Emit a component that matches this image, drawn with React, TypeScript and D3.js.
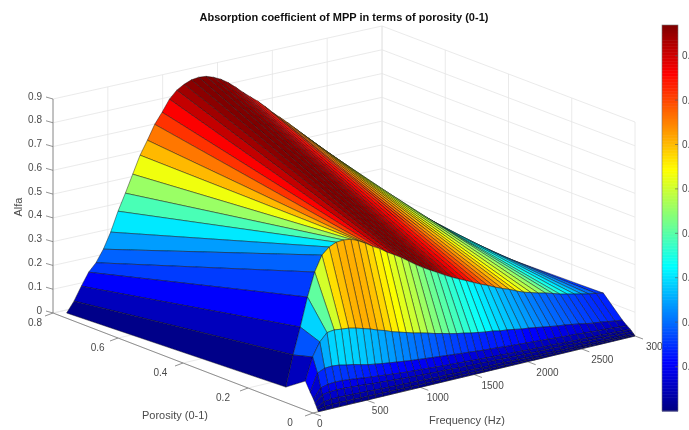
// App.tsx - absorption coefficient surface, MATLAB style surf with a jet colormap
import React from 'react';
import * as d3 from 'd3';

const frequencies = [50, 117, 184, 251, 318, 385, 452, 519, 586, 653, 720, 787, 854, 921, 988, 1055, 1122, 1189, 1256, 1323, 1390, 1457, 1524, 1591, 1658, 1725, 1792, 1859, 1926, 1993, 2060, 2127, 2194, 2261, 2328, 2395, 2462, 2529, 2596, 2663, 2730, 2797, 2864, 2931, 3000];
const porosities = [0, 0.002, 0.005, 0.01, 0.015, 0.025, 0.04, 0.1, 0.775];

const alphaP0 = [0, 0, 0, 0, 0, 0, 0, 0, 0, 0, 0, 0, 0, 0, 0, 0, 0, 0, 0, 0, 0, 0, 0, 0, 0, 0, 0, 0, 0, 0, 0, 0, 0, 0, 0, 0, 0, 0, 0, 0, 0, 0, 0, 0, 0];
const alphaP1 = [.006, .014, .015, .016, .015, .015, .014, .014, .013, .013, .012, .012, .011, .011, .01, .01, .01, .009, .009, .009, .008, .008, .008, .007, .007, .007, .007, .007, .006, .006, .006, .006, .006, .005, .005, .005, .005, .005, .004, .004, .004, .004, .004, .004, .003];
const alphaP2 = [.015, .032, .035, .036, .035, .034, .033, .032, .03, .029, .028, .027, .026, .025, .024, .023, .022, .021, .021, .02, .019, .019, .018, .017, .017, .016, .016, .015, .015, .014, .014, .013, .013, .012, .012, .011, .011, .011, .01, .01, .009, .009, .009, .008, .008];
const alphaP3 = [.03, .058, .064, .065, .064, .062, .06, .058, .055, .053, .051, .049, .047, .045, .043, .042, .04, .039, .038, .037, .035, .034, .033, .032, .031, .03, .029, .028, .027, .026, .025, .024, .023, .023, .022, .021, .02, .019, .019, .018, .017, .017, .016, .015, .015];
const alphaP4 = [.045, .085, .093, .095, .094, .091, .088, .084, .08, .077, .074, .071, .068, .065, .063, .061, .059, .057, .055, .053, .051, .05, .048, .046, .045, .043, .042, .04, .039, .038, .036, .035, .034, .033, .032, .03, .029, .028, .027, .026, .025, .024, .023, .022, .021];
const alphaP5 = [.069, .142, .155, .157, .154, .147, .142, .134, .127, .122, .117, .113, .109, .105, .101, .098, .095, .092, .089, .086, .083, .08, .078, .075, .072, .07, .068, .065, .063, .061, .059, .057, .055, .053, .051, .049, .047, .045, .043, .041, .039, .037, .035, .033, .031];
const alphaP6 = [.108, .202, .258, .29, .294, .29, .287, .28, .271, .262, .25, .241, .229, .22, .211, .202, .195, .187, .178, .171, .163, .156, .151, .144, .139, .134, .131, .124, .121, .116, .11, .107, .102, .097, .092, .087, .084, .079, .074, .068, .063, .06, .055, .05, .047];
const alphaP7 = [.051, .179, .289, .408, .506, .57, .597, .61, .612, .608, .595, .577, .557, .54, .518, .5, .481, .459, .437, .417, .399, .382, .364, .348, .333, .319, .304, .29, .277, .263, .25, .239, .225, .213, .204, .195, .188, .179, .169, .162, .155, .148, .141, .136, .13];
const alphaP8 = [.008, .051, .107, .159, .192, .242, .307, .388, .457, .53, .603, .659, .719, .763, .811, .842, .86, .872, .876, .873, .862, .847, .826, .8, .772, .746, .721, .692, .66, .633, .605, .575, .545, .515, .485, .455, .42, .38, .343, .31, .276, .238, .2, .155, .116];
const alphaRows = [alphaP0, alphaP1, alphaP2, alphaP3, alphaP4, alphaP5, alphaP6, alphaP7, alphaP8];

const fTicks = [0, 500, 1000, 1500, 2000, 2500, 3000];
const pTicks = [0, 0.2, 0.4, 0.6, 0.8];
const zTicks = [0, 0.1, 0.2, 0.3, 0.4, 0.5, 0.6, 0.7, 0.8, 0.9];
const cbarTicks = [0.1, 0.2, 0.3, 0.4, 0.5, 0.6, 0.7, 0.8];
const alphaMax = 0.869;

const width = 689;
const height = 430;
const textColor = '#4a4a4a';
const font = '"Liberation Sans", Arial, sans-serif';

// floor corners in pixels, surf is read from these by bilinear mapping
const floor = {
  near: [313, 413], left: [53, 313], right: [635, 336], back: [382, 240],
};
const fScale = d3.scaleLinear().domain([0, 3000]).range([0, 1]);
const pScale = d3.scaleLinear().domain([0, 0.8]).range([0, 1]);
const zScale = d3.scaleLinear().domain([0, 0.9]).range([0, 214]);

function project(f: number, p: number, z: number): [number, number] {
  const s = fScale(f);
  const t = pScale(p);
  const mix = (k: number) =>
    (1 - s) * (1 - t) * floor.near[k] + s * (1 - t) * floor.right[k] +
    (1 - s) * t * floor.left[k] + s * t * floor.back[k];
  return [mix(0), mix(1) - zScale(z)];
}

const jet = d3.scaleLinear<string>()
  .domain([0, 0.125, 0.375, 0.625, 0.875, 1].map(d => d * alphaMax))
  .range(['#000080', '#0000ff', '#00ffff', '#ffff00', '#ff0000', '#800000'])
  .clamp(true);

const cbarY = d3.scaleLinear().domain([0, alphaMax]).range([411, 25]);
const fLabelDx = d3.scaleLinear().domain([0, 3000]).range([4, 11]);
const pLabelDx = d3.scaleLinear().domain([0, 0.2, 0.8]).range([-23, -25, -18]);
const line = d3.line();

function seg(a: [number, number], b: [number, number]) {
  return line([a, b]) as string;
}

function Surface() {
  const quads: React.ReactElement[] = [];
  // back to front: far porosity rows first, high frequency first
  for (let i = porosities.length - 2; i >= 0; i--) {
    for (let j = frequencies.length - 2; j >= 0; j--) {
      const pts = [
        project(frequencies[j], porosities[i], alphaRows[i][j]),
        project(frequencies[j + 1], porosities[i], alphaRows[i][j + 1]),
        project(frequencies[j + 1], porosities[i + 1], alphaRows[i + 1][j + 1]),
        project(frequencies[j], porosities[i + 1], alphaRows[i + 1][j]),
      ];
      quads.push(
        <path key={`${i}-${j}`} d={line.curve(d3.curveLinearClosed)(pts) as string}
          fill={jet(alphaRows[i + 1][j])} stroke="#111" strokeWidth={0.55} strokeOpacity={0.8} strokeLinejoin="round" />
      );
    }
  }
  line.curve(d3.curveLinear);
  return <g>{quads}</g>;
}

function Grid() {
  const lines: string[] = [];
  fTicks.forEach(f => {
    lines.push(seg(project(f, 0.8, 0), project(f, 0.8, 0.9)));
    lines.push(seg(project(f, 0, 0), project(f, 0.8, 0)));
  });
  pTicks.forEach(p => {
    lines.push(seg(project(3000, p, 0), project(3000, p, 0.9)));
    lines.push(seg(project(0, p, 0), project(3000, p, 0)));
  });
  zTicks.forEach(z => {
    lines.push(seg(project(0, 0.8, z), project(3000, 0.8, z)));
    lines.push(seg(project(3000, 0.8, z), project(3000, 0, z)));
  });
  return <g stroke="#e4e4e4" strokeWidth={0.8} fill="none">{lines.map((d, i) => <path key={i} d={d} />)}</g>;
}

function Axes() {
  return (
    <g fontFamily={font} fontSize={10} fill={textColor}>
      <g stroke="#777" strokeWidth={0.8} fill="none">
        <path d={seg(project(0, 0.8, 0), project(0, 0.8, 0.9))} />
        <path d={seg(project(0, 0.8, 0), project(0, 0, 0))} />
        <path d={seg(project(0, 0, 0), project(3000, 0, 0))} />
        {zTicks.map(z => {
          const [x, y] = project(0, 0.8, z);
          return <path key={z} d={seg([x, y], [x - 7, y - 2])} />;
        })}
        {pTicks.map(p => {
          const [x, y] = project(0, p, 0);
          return <path key={p} d={seg([x, y], [x - 8, y + 3])} />;
        })}
        {fTicks.map(f => {
          const [x, y] = project(f, 0, 0);
          return <path key={f} d={seg([x, y], [x + 8, y + 3])} />;
        })}
      </g>
      {zTicks.map(z => {
        const [x, y] = project(0, 0.8, z);
        return <text key={z} x={x - 11} y={y + 0.5} textAnchor="end">{String(z)}</text>;
      })}
      {pTicks.map(p => {
        const [x, y] = project(0, p, 0);
        return <text key={p} x={x + pLabelDx(p)} y={y + 12.5} textAnchor="middle">{String(p)}</text>;
      })}
      {fTicks.map(f => {
        const [x, y] = project(f, 0, 0);
        return <text key={f} x={x + fLabelDx(f)} y={y + 14} textAnchor="start">{String(f)}</text>;
      })}
      <text x={175} y={419} fontSize={11} textAnchor="middle">Porosity (0-1)</text>
      <text x={467} y={424} fontSize={11} textAnchor="middle">Frequency (Hz)</text>
      <text transform="translate(22,207) rotate(-90)" fontSize={11} textAnchor="middle">Alfa</text>
    </g>
  );
}

function Colorbar() {
  const levels = d3.range(0, 256);
  const h = (cbarY(0) - cbarY(alphaMax)) / levels.length;
  return (
    <g fontFamily={font} fontSize={10} fill={textColor}>
      {levels.map(l => (
        <rect key={l} x={662} width={16} y={cbarY(((l + 1) / 256) * alphaMax)} height={h + 0.5}
          fill={jet(((l + 0.5) / 256) * alphaMax)} />
      ))}
      <rect x={662} y={25} width={16} height={386} fill="none" stroke="#777" strokeWidth={0.6} />
      {cbarTicks.map(t => (
        <g key={t}>
          <path d={seg([675, cbarY(t)], [678, cbarY(t)])} stroke="#555" strokeWidth={0.6} />
          <text x={682} y={cbarY(t) + 3.5}>{String(t)}</text>
        </g>
      ))}
    </g>
  );
}

export default function App() {
  return (
    <svg width={width} height={height} viewBox={`0 0 ${width} ${height}`}
      style={{ position: 'absolute', left: 0, top: 0, background: '#fff' }}>
      <defs>
        <filter id="soft" x="0" y="0" width="100%" height="100%">
          <feGaussianBlur stdDeviation="0.4" />
        </filter>
      </defs>
      <g filter="url(#soft)">
        <rect width={width} height={height} fill="#fff" />
        <Grid />
        <Axes />
        <Surface />
        <Colorbar />
        <text x={344} y={21} textAnchor="middle" fontFamily={font} fontSize={11} fontWeight="bold" fill="#111">
          Absorption coefficient of MPP in terms of porosity (0-1)
        </text>
      </g>
    </svg>
  );
}
